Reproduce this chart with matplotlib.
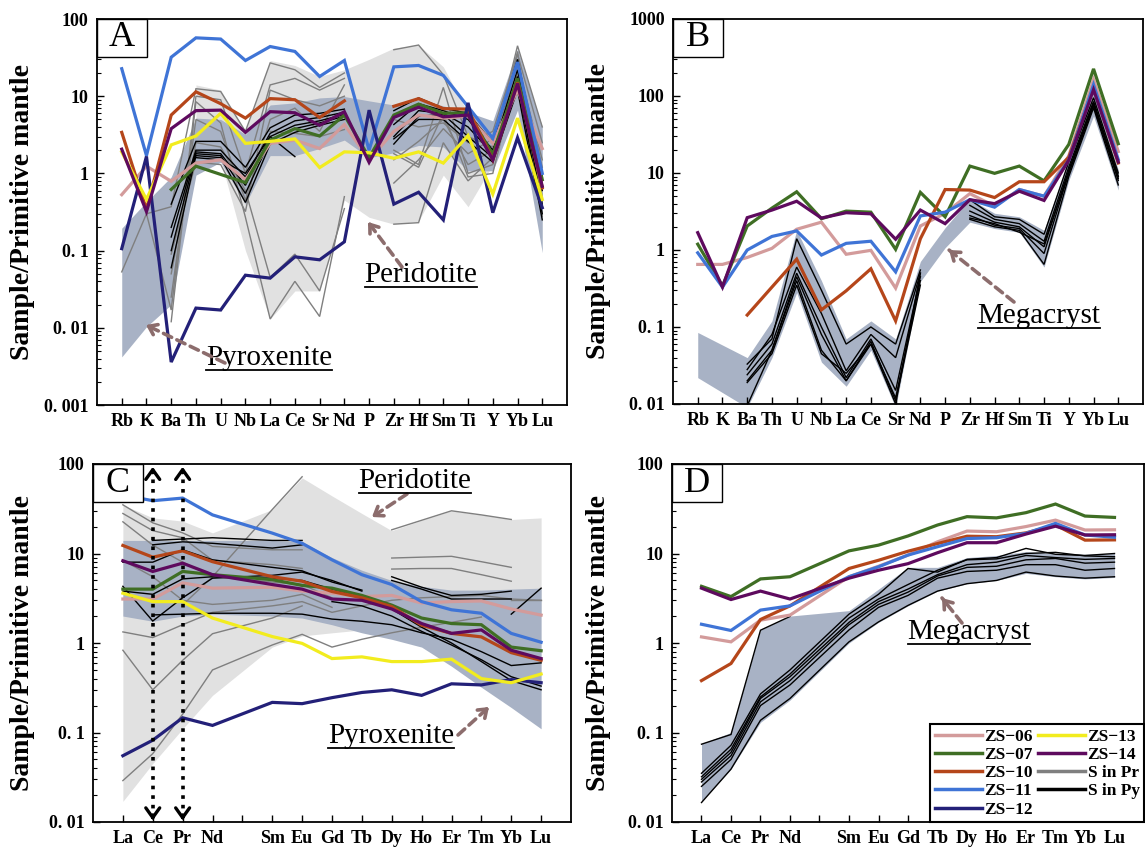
import numpy as np
import matplotlib
matplotlib.use("Agg")
import matplotlib.pyplot as plt
from matplotlib.lines import Line2D
from matplotlib.patches import Rectangle
from matplotlib.ticker import LogLocator, NullFormatter

plt.rcParams['font.family'] = ['Liberation Serif', 'DejaVu Serif']

N = None

# ---------------- element lists ----------------
trace_elems = ['Rb', 'K', 'Ba', 'Th', 'U', 'Nb', 'La', 'Ce', 'Sr', 'Nd', 'P',
               'Zr', 'Hf', 'Sm', 'Ti', 'Y', 'Yb', 'Lu']
ree_elems = ['La', 'Ce', 'Pr', 'Nd', '', 'Sm', 'Eu', 'Gd', 'Tb', 'Dy', 'Ho',
             'Er', 'Tm', 'Yb', 'Lu']
PM = 4  # empty Pm slot, lines run straight across it

samples = ['ZS−06', 'ZS−07', 'ZS−10', 'ZS−11', 'ZS−12', 'ZS−13', 'ZS−14']
colors = ['#d39b9b', '#3f6e24', '#b5461a', '#3f74d6', '#232078', '#f2ec1e', '#5e0a5e']
gray_c = '#7f7f7f'
field_light = '#e1e1e1'
field_blue = '#a8b2c5'
arrow_c = '#8c6d6d'

# ---------------- panel A : trace elements ----------------
a_zs06 = [0.53, 1.24, 0.79, 1.36, 1.5, 0.83, 2.45, 2.7, 2.1, 4.3, 1.5, 3.5, 5.7, 5.2, 5.5, 2.45, 12, 2.1]
a_zs07 = [N, N, 0.62, 1.24, 0.97, 0.76, 2.7, 3.8, 3.05, 5.7, 1.6, 5.7, 7.9, 6.0, 6.1, 1.75, 17, 0.83]
a_zs10 = [3.4, 0.34, 5.7, 11.4, 8.0, 5.2, 9.3, 9.0, 5.3, 8.7, N, 7.4, 9.3, 6.9, 6.8, 1.5, 15, 0.65]
a_zs11 = [22.7, 1.7, 32, 57, 55, 29, 44, 38, 18, 29, 2.0, 24, 25, 18.6, 7.3, 2.85, 27.7, 1.0]
a_zs12 = [0.106, 1.66, 0.0036, 0.018, 0.017, 0.048, 0.044, 0.083, 0.076, 0.13, 6.6, 0.40, 0.57, 0.25, 8.2, 0.31, 2.9, 0.36]
a_zs13 = [1.9, 0.46, 2.34, 3.05, 6.0, 2.45, 2.6, 2.8, 1.19, 1.9, 1.85, 1.57, 1.9, 1.36, 3.1, 0.54, 5.2, 0.46]
a_zs14 = [2.06, 0.32, 3.8, 6.5, 6.6, 3.4, 6.3, 6.1, 4.2, 6.3, 1.39, 5.3, 7.2, 5.4, 5.7, 1.5, 14.6, 0.68]
a_gray = [
    [0.053, 0.30, 0.37, 12.5, 11.5, 3.5, 27, 22, 13, 20, N, 40, 46, 19, 3.0, 2.2, 45, 4.0],
    [N, 0.30, 0.017, 10, 9.0, 1.0, 14, 17, 12, 17, N, 2.0, 1.3, 13, 1.0, 1.3, 38, 0.28],
    [N, N, 0.012, 8.5, 4.5, 0.27, 0.013, 0.04, 0.014, 0.5, N, 0.22, 0.23, 2.5, 0.8, 1.6, 30, 0.5],
    [N, N, 0.025, 5.0, 3.5, 0.45, 5.0, 7.0, 3.5, 14, N, 0.75, 1.5, 3.8, 1.8, 2.8, 25, 1.5],
    [N, N, 0.05, 2.5, 2.2, 0.6, 0.045, 0.09, 0.03, 0.35, N, 1.8, 1.2, 6.0, 0.9, 1.0, 20, 0.9],
    [N, N, 0.09, 1.4, 1.3, 0.32, 12, 9, 7.5, 10, N, 5.0, 4.0, 4.5, 2.5, 3.5, 35, 2.5],
    [N, N, N, N, N, N, 3.5, 3.3, 3.0, 3.7, N, 1.5, 2.6, 5.0, 1.3, 2.0, 28, 1.2],
]
a_black = [
    [N, N, 0.40, 2.6, 2.6, 1.2, 3.9, 5.7, 6.0, 6.8, N, 6.5, 9.5, 7.0, 6.0, 2.5, 30, 0.9],
    [N, N, 0.20, 2.0, 2.0, 0.9, 3.3, 4.8, 5.3, 6.2, N, 4.3, 8.0, 6.5, 5.0, 2.0, 22, 0.6],
    [N, N, 0.15, 1.9, 1.8, 0.7, 3.0, 4.2, 4.8, 5.8, N, 3.0, 6.5, 6.0, 4.0, 1.8, 18, 0.4],
    [N, N, 0.10, 1.8, 1.7, 0.55, 2.7, 3.8, 4.5, 5.5, N, 2.4, 5.5, 5.8, 3.0, 1.6, 15, 0.3],
    [N, N, 0.06, 1.7, 1.6, 0.42, 2.4, 3.4, 4.2, 5.0, N, 2.8, 5.0, 5.0, 2.6, 1.4, 12, 0.25],
    [N, N, N, 1.6, 1.5, 1.0, 3.0, 1.65, N, N, N, N, N, N, N, N, N, N],
]
a_perid_lo = [N, N, N, 1.5, 1.5, 0.1, 0.013, 0.03, 0.03, 0.45, 0.27, 0.22, 0.24, 0.95, 0.37, 1.3, N, N]
a_perid_hi = [N, N, N, 14, 12, 3.5, 29, 25, 18, 22, 30, 42, 46, 24, 6.0, 3.5, N, N]
a_pyrox_lo = [0.0042, 0.0103, 0.02, 0.95, 1.4, 0.4, 1.7, 1.7, 2.1, 2.7, 1.6, 1.85, 2.3, 2.2, 1.08, 1.08, 6.6, 0.094]
a_pyrox_hi = [0.195, 0.43, 0.9, 5.2, 5.0, 3.2, 7.7, 8.2, 9.5, 9.9, 8.7, 7.7, 9.0, 7.5, 6.2, 4.8, 41, 4.0]

# ---------------- panel B : trace elements (megacryst) ----------------
b_zs06 = [0.65, 0.65, 0.8, 1.05, 1.86, 2.3, 0.88, 0.99, 0.32, 2.05, 3.0, 5.4, 3.7, 6.1, 5.0, 16.7, 163, 19]
b_zs07 = [1.19, 0.34, 2.05, 3.5, 5.7, 2.55, 3.2, 3.1, 1.02, 5.6, 2.7, 12.3, 9.9, 12.3, 7.9, 23.5, 225, 24]
b_zs10 = [N, N, 0.143, 0.33, 0.76, 0.167, 0.295, 0.57, 0.12, 1.4, 6.1, 6.0, 4.8, 7.7, 7.7, 16, 130, 13.5]
b_zs11 = [0.92, 0.33, 1.0, 1.5, 1.77, 0.86, 1.22, 1.3, 0.52, 2.77, 3.1, 4.5, 3.6, 6.1, 5.0, 14.7, 140, 15]
b_zs14 = [1.68, 0.33, 2.63, 3.3, 4.3, 2.6, 3.05, 2.95, 1.38, 3.3, 2.2, 4.5, 4.0, 5.8, 4.4, 14.7, 121, 13.9]
b_black = [
    [N, N, 0.033, 0.07, 1.4, 0.30, 0.06, 0.10, 0.06, 0.55, N, 4.5, 2.7, 2.5, 1.6, 14, 95, 10],
    [N, N, 0.028, 0.08, 0.6, 0.15, 0.027, 0.08, 0.04, 0.50, N, 3.8, 2.5, 2.2, 1.3, 12, 85, 9],
    [N, N, 0.024, 0.06, 0.5, 0.10, 0.022, 0.07, 0.015, 0.45, N, 3.2, 2.3, 2.0, 1.1, 11, 80, 8.5],
    [N, N, 0.020, 0.05, 0.45, 0.08, 0.020, 0.06, 0.012, 0.40, N, 2.8, 2.1, 1.9, 0.9, 10, 75, 8],
    [N, N, 0.019, 0.045, 0.35, 0.045, 0.025, 0.06, 0.010, 0.50, N, 2.5, 2.0, 1.8, 0.65, 9, 70, 7],
    [N, N, 0.0095, 0.05, 0.40, 0.05, 0.020, 0.065, 0.011, 0.35, N, 2.6, 2.2, 1.7, 1.2, 10, 80, 9],
]
b_mega_lo = [0.022, N, 0.009, 0.04, 0.28, 0.035, 0.017, 0.05, 0.009, 0.39, 1.07, 2.3, 1.9, 1.7, 0.6, 8, 55, 6]
b_mega_hi = [0.085, N, 0.04, 0.12, 1.8, 0.4, 0.07, 0.12, 0.07, 0.71, 1.95, 4.6, 3.0, 2.7, 1.8, 15, 110, 11]

# ---------------- panel C : REE ----------------
c_zs06 = [3.1, 3.1, 4.7, 4.1, N, 4.2, 3.8, 3.6, 3.3, 3.4, 2.8, 2.9, 2.95, 2.4, 2.05]
c_zs07 = [4.0, 4.0, 6.3, 5.8, N, 5.1, 4.4, 4.1, 3.4, 2.65, 1.9, 1.65, 1.6, 0.9, 0.82]
c_zs10 = [12.3, 9.1, 10.7, 8.1, N, 5.5, 4.9, 3.76, 3.2, 2.55, 1.58, 1.28, 1.17, 0.78, 0.64]
c_zs11 = [45, 38.9, 41.6, 27, N, 16.9, 13, 8.5, 5.8, 4.5, 2.9, 2.35, 2.15, 1.28, 1.02]
c_zs12 = [0.055, 0.082, 0.146, 0.12, N, 0.217, 0.21, 0.245, 0.28, 0.30, 0.26, 0.35, 0.34, 0.39, 0.36]
c_zs13 = [3.6, 2.9, 2.9, 1.9, N, 1.18, 0.99, 0.67, 0.70, 0.62, 0.62, 0.66, 0.40, 0.36, 0.45]
c_zs14 = [8.3, 6.3, 7.8, 5.8, N, 4.5, 4.0, 3.1, 3.0, 2.4, 1.65, 1.28, 1.4, 0.83, 0.67]
c_gray = [
    [35, 22, 17, 12, N, 11, 11, N, N, N, N, N, N, N, N],
    [28, 18, 15, 8.4, N, 7.5, 6.8, N, N, N, N, N, N, N, N],
    [22.6, 12.4, 8.0, 5.5, N, 4.8, 4.5, 3.2, N, N, N, N, N, N, N],
    [8.4, 5.5, 3.0, 2.7, N, 3.0, 3.5, 2.5, N, N, N, N, N, N, N],
    [1.33, 1.15, 1.6, 2.2, N, 2.6, 2.9, 2.2, 2.6, 3.0, 3.2, 3.3, 3.4, 3.1, 3.0],
    [0.83, 0.30, 0.64, 1.27, N, 1.9, 2.6, N, N, N, N, N, N, N, N],
    [0.029, 0.058, 0.16, 0.5, N, 0.95, 1.25, 0.9, 1.1, 1.3, 1.5, 1.7, 1.95, N, N],
    [N, N, 2.66, 5.5, N, 31, 72, N, N, N, N, N, N, N, N],
    [N, N, N, N, N, N, N, N, N, 18.4, 23.5, 30, 27, 24, N],
    [N, N, N, N, N, N, N, N, N, 8.9, 9.1, 9.3, 8.1, 7.0, N],
    [N, N, N, N, N, N, N, N, N, 6.7, 6.8, 6.8, 5.8, 4.9, N],
    [N, N, N, N, N, N, N, N, N, N, N, N, N, 3.0, 3.0],
]
c_black = [
    [N, 12.5, 13.5, 13, N, 11.5, 12.5, N, N, N, N, N, N, N, N],
    [N, 14, 14.5, 15, N, 14, 14, N, N, N, N, N, N, N, N],
    [8.0, 8.0, 11, 8.5, N, 7.0, 6.4, 4.8, 3.9, N, N, N, N, N, N],
    [4.3, 1.76, 3.2, 5.3, N, 5.7, 6.2, 5.0, 3.8, N, N, N, N, N, N],
    [3.8, 3.5, 5.2, 5.5, N, 5.3, 5.0, 4.0, 3.3, 2.4, 1.5, 1.0, 0.62, 0.38, 0.30],
    [N, 2.06, 2.1, 2.15, N, 2.15, 2.1, 1.85, 1.75, 1.6, 1.3, 1.1, 0.8, 0.56, 0.6],
    [N, N, N, N, N, N, N, N, N, 5.5, 4.2, 3.4, 3.5, 3.8, N],
    [N, N, N, N, N, N, N, N, N, 5.0, 4.0, 3.1, 3.1, 3.1, N],
    [N, N, N, N, N, N, N, 2.9, 2.6, 2.0, 1.35, 0.95, 0.65, 0.42, 0.33],
    [N, N, N, N, N, N, N, N, N, N, N, N, N, 2.1, 4.1],
]
c_perid_lo = [0.017, 0.045, 0.11, 0.26, N, 0.9, 1.2, 1.3, 1.4, 1.5, 1.6, 1.7, 1.8, 1.9, 2.0]
c_perid_hi = [35, 25, 23, 17, N, 31, 70, 44, 28, 18, 23.5, 30, 27, 24, 25]
c_pyrox_lo = [2.0, 1.75, 2.0, 2.1, N, 2.0, 1.9, 1.6, 1.3, 1.1, 0.9, 0.55, 0.32, 0.19, 0.11]
c_pyrox_hi = [14, 14, 14, 14, N, 14, 13.5, 9, 6.5, 5.0, 4.3, 3.9, 3.9, 4.0, 4.1]

# ---------------- panel D : REE (megacryst) ----------------
d_zs06 = [1.17, 1.03, 1.8, 2.05, N, 5.5, 7.2, 9.6, 13.5, 17.8, 17.5, 20, 23.6, 18.3, 18.4]
d_zs07 = [4.3, 3.3, 5.2, 5.5, N, 10.7, 12.4, 15.7, 20.8, 25.8, 25, 28.6, 35.7, 26.2, 25.3]
d_zs10 = [0.38, 0.59, 1.83, 2.6, N, 6.8, 8.4, 10.6, 12.9, 15.6, 15.4, 17.0, 20.8, 14.1, 14.2]
d_zs11 = [1.62, 1.38, 2.33, 2.6, N, 5.5, 7.1, 9.6, 11.9, 14.7, 15, 16.8, 21.7, 16.1, 15.2]
d_zs14 = [4.1, 3.06, 3.8, 3.1, N, 5.3, 6.5, 7.7, 10.2, 13.2, 13.2, 16.5, 20.2, 16.1, 16.2]
d_black = [
    [0.074, 0.095, 1.39, 1.98, N, N, N, N, N, N, N, N, N, N, N],
    [0.035, 0.072, 0.27, 0.50, N, 2.1, 3.5, 6.8, 6.2, 8.6, 9.0, 11.4, 9.8, 9.5, 10.0],
    [0.032, 0.065, 0.25, 0.45, N, 1.9, 3.1, 4.5, 6.5, 8.5, 8.7, 10.0, 10.3, 9.4, 9.2],
    [0.030, 0.060, 0.24, 0.42, N, 1.7, 2.9, 4.0, 5.8, 7.5, 8.0, 9.5, 9.0, 8.6, 8.8],
    [0.028, 0.055, 0.22, 0.38, N, 1.6, 2.7, 3.7, 5.6, 7.0, 7.2, 8.5, 8.8, 7.8, 8.0],
    [0.025, 0.050, 0.20, 0.34, N, 1.4, 2.5, 3.4, 5.3, 6.3, 6.5, 7.5, 7.5, 6.5, 6.8],
    [0.0165, 0.039, 0.137, 0.24, N, 1.03, 1.72, 2.63, 3.8, 4.6, 5.0, 6.2, 5.6, 5.3, 5.5],
]
d_mega_lo = [0.017, 0.039, 0.13, 0.23, N, 1.0, 1.7, 2.6, 3.8, 4.6, 5.0, 6.0, 5.5, 5.2, 5.4]
d_mega_hi = [0.075, 0.1, 1.4, 2.0, N, 2.3, 4.0, 7.0, 7.0, 9.0, 9.5, 10.5, 10.0, 9.8, 10.0]

W, H = 1145, 851


def arr(lst):
    return np.array([np.nan if v is None else v for v in lst], dtype=float)


def fp(x, y):
    # pixel position (y from top) -> figure fraction
    return (x / W, 1 - y / H)


def add_ax(l, r, t, b):
    return fig.add_axes([l / W, 1 - b / H, (r - l) / W, (b - t) / H])


def field(ax, lo, hi, color):
    lo, hi = arr(lo), arr(hi)
    x = np.arange(len(lo))
    m = ~np.isnan(lo) & ~np.isnan(hi)
    ax.fill_between(x[m], lo[m], hi[m], color=color, lw=0, zorder=1)


def series(ax, vals, color, lw, z, skip=None):
    y = arr(vals)
    x = np.arange(len(y))
    if skip is not None:
        keep = x != skip
        x, y = x[keep], y[keep]
    ax.plot(x, y, color=color, lw=lw, zorder=z, solid_joinstyle='miter')


def style(ax, labels, ylim, yticklabels, letter, lab_x):
    n = len(labels)
    ax.set_yscale('log')
    ax.set_ylim(*ylim)
    ax.set_xlim(-1, n)
    ax.set_xticks(range(n))
    ax.set_xticklabels(labels, fontsize=13, fontweight='bold')
    decades = [10.0 ** k for k in range(int(np.log10(ylim[0])), int(np.log10(ylim[1])) + 1)]
    ax.set_yticks(decades)
    ax.set_yticklabels(yticklabels, fontsize=13, fontweight='bold')
    ax.yaxis.set_minor_locator(LogLocator(base=10, subs=np.arange(2, 10)))
    ax.yaxis.set_minor_formatter(NullFormatter())
    ax.tick_params(axis='both', which='major', direction='in', length=5, width=1,
                   top=False, right=False, pad=6)
    ax.tick_params(axis='y', which='minor', direction='in', length=3, width=0.8, right=False)
    for s in ax.spines.values():
        s.set_linewidth(1.3)
    ax.set_ylabel('Sample/Primitive mantle', fontsize=20, fontweight='bold')
    ax.yaxis.set_label_coords(lab_x, 0.5)
    # panel letter box
    bb = ax.get_position()
    wpx, hpx = bb.width * W, bb.height * H
    ax.add_patch(Rectangle((0, 1), 50 / wpx, -38 / hpx, transform=ax.transAxes,
                           fc='white', ec='black', lw=1.0, zorder=30, clip_on=False))
    ax.text(25 / wpx, 1 - 19 / hpx, letter, transform=ax.transAxes, fontsize=26,
            ha='center', va='center', zorder=31)


labels_txt = []


def label(ax, s, cx, base):
    t = ax.text(*fp(cx, base), s, transform=fig.transFigure, fontsize=21,
                ha='center', va='baseline', zorder=25)
    labels_txt.append((t, base))


def arrow(ax, tail, head):
    ax.annotate('', xy=fp(*head), xytext=fp(*tail), xycoords='figure fraction',
                arrowprops=dict(arrowstyle='-', linestyle=(0, (2.5, 1.6)), color=arrow_c,
                                lw=2.6, shrinkA=0, shrinkB=0), zorder=25)
    d = np.array(tail, float) - np.array(head, float)
    d = d / np.hypot(*d)
    back = np.array(head, float) + d * 5
    ax.annotate('', xy=fp(*head), xytext=fp(*back), xycoords='figure fraction',
                arrowprops=dict(arrowstyle='->,head_length=0.55,head_width=0.4', color=arrow_c,
                                lw=2.6, shrinkA=0, shrinkB=0), zorder=25)


fig = plt.figure(figsize=(W / 100, H / 100), dpi=100)

# ---------------- A ----------------
axA = add_ax(97, 567, 19, 405)
field(axA, a_perid_lo, a_perid_hi, field_light)
field(axA, a_pyrox_lo, a_pyrox_hi, field_blue)
for g in a_gray:
    series(axA, g, gray_c, 1.0, 3)
for b in a_black:
    series(axA, b, 'black', 1.0, 4)
for vals, c in zip([a_zs06, a_zs07, a_zs10, a_zs11, a_zs12, a_zs13, a_zs14], colors):
    series(axA, vals, c, 2.3, 6)
style(axA, trace_elems, (1e-3, 100), ['0. 001', '0. 01', '0. 1', '1', '10', '100'], 'A', -0.132)
label(axA, 'Peridotite', 421, 282)
label(axA, 'Pyroxenite', 269, 365)
arrow(axA, (402, 267), (368, 222))
arrow(axA, (225, 363), (146, 325))

# ---------------- B ----------------
axB = add_ax(673, 1143, 19, 404)
field(axB, b_mega_lo, b_mega_hi, field_blue)
for b in b_black:
    series(axB, b, 'black', 1.0, 4)
for vals, c in zip([b_zs06, b_zs07, b_zs10, b_zs11, b_zs14],
                   [colors[0], colors[1], colors[2], colors[3], colors[6]]):
    series(axB, vals, c, 2.3, 6)
style(axB, trace_elems, (1e-2, 1000), ['0. 01', '0. 1', '1', '10', '100', '1000'], 'B', -0.132)
label(axB, 'Megacryst', 1039, 323)
arrow(axB, (1014, 302), (949, 250))

# ---------------- C ----------------
axC = add_ax(93, 571, 464, 822)
field(axC, c_perid_lo, c_perid_hi, field_light)
field(axC, c_pyrox_lo, c_pyrox_hi, field_blue)
for g in c_gray:
    series(axC, g, gray_c, 1.0, 3, skip=PM)
for b in c_black:
    series(axC, b, 'black', 1.0, 4, skip=PM)
for vals, c in zip([c_zs06, c_zs07, c_zs10, c_zs11, c_zs12, c_zs13, c_zs14], colors):
    series(axC, vals, c, 2.3, 6, skip=PM)
style(axC, ree_elems, (1e-2, 100), ['0. 01', '0. 1', '1', '10', '100'], 'C', -0.121)
for xi in (ree_elems.index('Ce'), ree_elems.index('Pr')):
    axC.axvline(xi, ymin=0.01, ymax=0.99, ls=':', lw=2.6, color='black', zorder=20)
    for tip, back in ((93, 80), (0.0104, 0.012)):
        axC.annotate('', xy=(xi, tip), xytext=(xi, back),
                     arrowprops=dict(arrowstyle='->,head_length=0.7,head_width=0.5',
                                     lw=2.4, color='black', shrinkA=0, shrinkB=0), zorder=21)
label(axC, 'Peridotite', 415, 488)
label(axC, 'Pyroxenite', 391, 743)
arrow(axC, (407, 494), (372, 517))
arrow(axC, (458, 735), (489, 707))

# ---------------- D ----------------
axD = add_ax(672, 1144, 464, 822)
field(axD, d_mega_lo, d_mega_hi, field_blue)
for b in d_black:
    series(axD, b, 'black', 1.0, 4, skip=PM)
for vals, c in zip([d_zs06, d_zs07, d_zs10, d_zs11, d_zs14],
                   [colors[0], colors[1], colors[2], colors[3], colors[6]]):
    series(axD, vals, c, 2.3, 6, skip=PM)
style(axD, ree_elems, (1e-2, 100), ['0. 01', '0. 1', '1', '10', '100'], 'D', -0.129)
label(axD, 'Megacryst', 969, 639)
arrow(axD, (962, 623), (942, 598))

handles = [Line2D([], [], color=c, lw=2.5) for c in colors]
handles += [Line2D([], [], color=gray_c, lw=2.5), Line2D([], [], color='black', lw=2.5)]
leg = axD.legend(handles, samples + ['S in Pr', 'S in Py'], ncol=2, loc='lower right',
                 bbox_to_anchor=(1, 0), borderaxespad=0, fancybox=False, framealpha=1,
                 edgecolor='black', prop={'weight': 'bold', 'size': 12.5},
                 handlelength=2.7, handletextpad=0.15, columnspacing=0.3,
                 labelspacing=0.12, borderpad=0.25)
leg.get_frame().set_linewidth(1.5)
leg.set_zorder(40)

# underline the field labels
fig.canvas.draw()
rend = fig.canvas.get_renderer()
for t, base in labels_txt:
    bb = t.get_window_extent(rend)
    yb = 1 - (base + 5) / H
    fig.add_artist(Line2D([bb.x0 / W, bb.x1 / W], [yb, yb], transform=fig.transFigure,
                          color='black', lw=1.3))

fig.savefig('out.png', dpi=100)
